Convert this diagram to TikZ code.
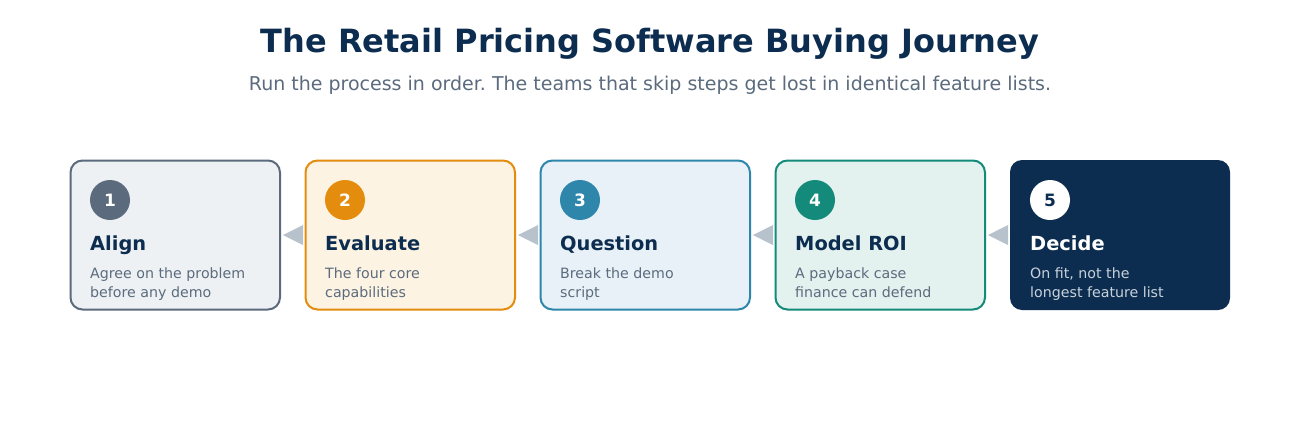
\documentclass[tikz,border=0pt]{standalone}
\usepackage{fontspec}
\setmainfont{DejaVu Sans}
\frenchspacing
\begin{document}
\begin{tikzpicture}[x=1pt,y=-1pt,
  stepbox/.style={draw=#1,line width=2pt,rounded corners=12pt},
  numdot/.style={circle,fill=#1,minimum size=40pt,inner sep=0pt,text=white,font=\bfseries\fontsize{17}{19}\selectfont},
  steptitle/.style={anchor=base west,inner sep=0pt,text=navy,font=\bfseries\fontsize{19.4}{23}\selectfont},
  stepdesc/.style={anchor=base west,inner sep=0pt,text=slate,font=\fontsize{14.2}{17}\selectfont},
  flowarrow/.style={fill=arrowgray,draw=none}]
\definecolor{navy}{HTML}{0C2D4F}
\definecolor{slate}{HTML}{5B6B7D}
\definecolor{arrowgray}{HTML}{B8C2CC}
\definecolor{fillA}{HTML}{EEF1F4}
\definecolor{fillB}{HTML}{FDF3E3}
\definecolor{lineB}{HTML}{E38C0E}
\definecolor{fillC}{HTML}{E8F1F7}
\definecolor{lineC}{HTML}{2E86AB}
\definecolor{fillD}{HTML}{E3F2EF}
\definecolor{lineD}{HTML}{138A7A}
\definecolor{lightdesc}{HTML}{C8D2DC}
\useasboundingbox[fill=white] (0,0) rectangle (1300,440);

\node[anchor=base,text=navy,font=\bfseries\fontsize{32}{38}\selectfont] (title) at (650,52) {The Retail Pricing Software Buying Journey};
\node[anchor=base,text=slate,font=\fontsize{19}{23}\selectfont] (subtitle) at (650,90) {Run the process in order. The teams that skip steps get lost in identical feature lists.};

% boxes
\filldraw[stepbox=slate,fill=fillA] (70.5,160.5) rectangle (280,309.5);
\filldraw[stepbox=lineB,fill=fillB] (305.5,160.5) rectangle (515,309.5);
\filldraw[stepbox=lineC,fill=fillC] (540.5,160.5) rectangle (750,309.5);
\filldraw[stepbox=lineD,fill=fillD] (775.5,160.5) rectangle (985,309.5);
\fill[navy,rounded corners=12pt] (1010,160) rectangle (1230,310);

% arrows
\fill[flowarrow] (283,235) -- (303,225) -- (303,245) -- cycle;
\fill[flowarrow] (518,235) -- (538,225) -- (538,245) -- cycle;
\fill[flowarrow] (753,235) -- (773,225) -- (773,245) -- cycle;
\fill[flowarrow] (988,235) -- (1008,225) -- (1008,245) -- cycle;

% numbers
\node[numdot=slate] (n1) at (110,200) {1};
\node[numdot=lineB] (n2) at (345,200) {2};
\node[numdot=lineC] (n3) at (580,200) {3};
\node[numdot=lineD] (n4) at (815,200) {4};
\node[numdot=white,text=navy] (n5) at (1050,200) {5};

% titles
\node[steptitle] (t1) at (90,250) {Align};
\node[steptitle] (t2) at (325,250) {Evaluate};
\node[steptitle] (t3) at (560,250) {Question};
\node[steptitle] (t4) at (795,250) {Model ROI};
\node[steptitle,text=white] (t5) at (1030,250) {Decide};

% descriptions
\node[stepdesc] (d1a) at (90,278) {Agree on the problem};
\node[stepdesc] (d1b) at (90,297) {before any demo};
\node[stepdesc] (d2a) at (325,278) {The four core};
\node[stepdesc] (d2b) at (325,297) {capabilities};
\node[stepdesc] (d3a) at (560,278) {Break the demo};
\node[stepdesc] (d3b) at (560,297) {script};
\node[stepdesc] (d4a) at (795,278) {A payback case};
\node[stepdesc] (d4b) at (795,297) {finance can defend};
\node[stepdesc,text=lightdesc] (d5a) at (1030,278) {On fit, not the};
\node[stepdesc,text=lightdesc] (d5b) at (1030,297) {longest feature list};
\end{tikzpicture}
\end{document}
